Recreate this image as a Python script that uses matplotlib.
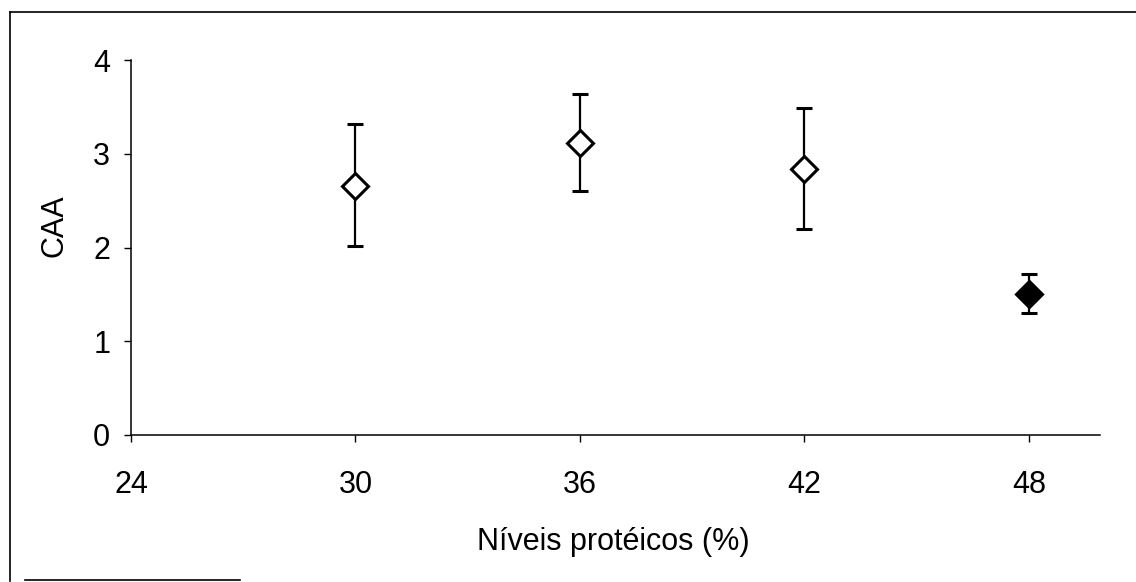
import matplotlib.pyplot as plt
from matplotlib.lines import Line2D

plt.rcParams['font.family'] = ['Liberation Sans', 'DejaVu Sans']

# protein levels (%) and CAA means with error bar limits
niveis = [30, 36, 42, 48]
caa = [2.66, 3.11, 2.84, 1.50]
err_low = [0.64, 0.51, 0.64, 0.20]
err_high = [0.66, 0.53, 0.65, 0.22]
fills = ['white', 'white', 'white', 'black']

xticks = [24, 30, 36, 42, 48]
yticks = [0, 1, 2, 3, 4]

W, H = 1136, 582
fig = plt.figure(figsize=(W / 100, H / 100), dpi=100)
ax = fig.add_axes([131 / W, 1 - 435 / H, (1100 - 131) / W, (435 - 60) / H])

for x, y, lo, hi, fc in zip(niveis, caa, err_low, err_high, fills):
    ax.errorbar(x, y, yerr=[[lo], [hi]], fmt='D', color='black', ecolor='black',
                elinewidth=1.6, capsize=5.5, capthick=1.8, markersize=13,
                markerfacecolor=fc, markeredgecolor='black', markeredgewidth=2.2)

ax.set_xlim(24, 49.9)
ax.set_ylim(0, 4)
ax.set_xticks(xticks)
ax.set_yticks(yticks)
ax.tick_params(labelsize=22, length=5, width=1, direction='out')
ax.tick_params(axis='x', pad=20)
ax.tick_params(axis='y', pad=10)
for s in ['top', 'right']:
    ax.spines[s].set_visible(False)
for s in ['left', 'bottom']:
    ax.spines[s].set_linewidth(1.1)

fig.text(613 / W, 1 - 550 / H, 'Níveis protéicos (%)', fontsize=22,
         ha='center', va='baseline')
fig.text(54 / W, 1 - 226 / H, 'CAA', fontsize=22, rotation=90,
         ha='center', va='center')

# partial outer frame from the scanned page
def fl(x0, y0, x1, y1):
    fig.add_artist(Line2D([x0 / W, x1 / W], [1 - y0 / H, 1 - y1 / H],
                          transform=fig.transFigure, color='black', lw=1.2))
fl(10, 12, 1136, 12)
fl(10, 12, 10, 581)
fl(25, 580, 240, 580)

fig.savefig('out.png', dpi=100)
